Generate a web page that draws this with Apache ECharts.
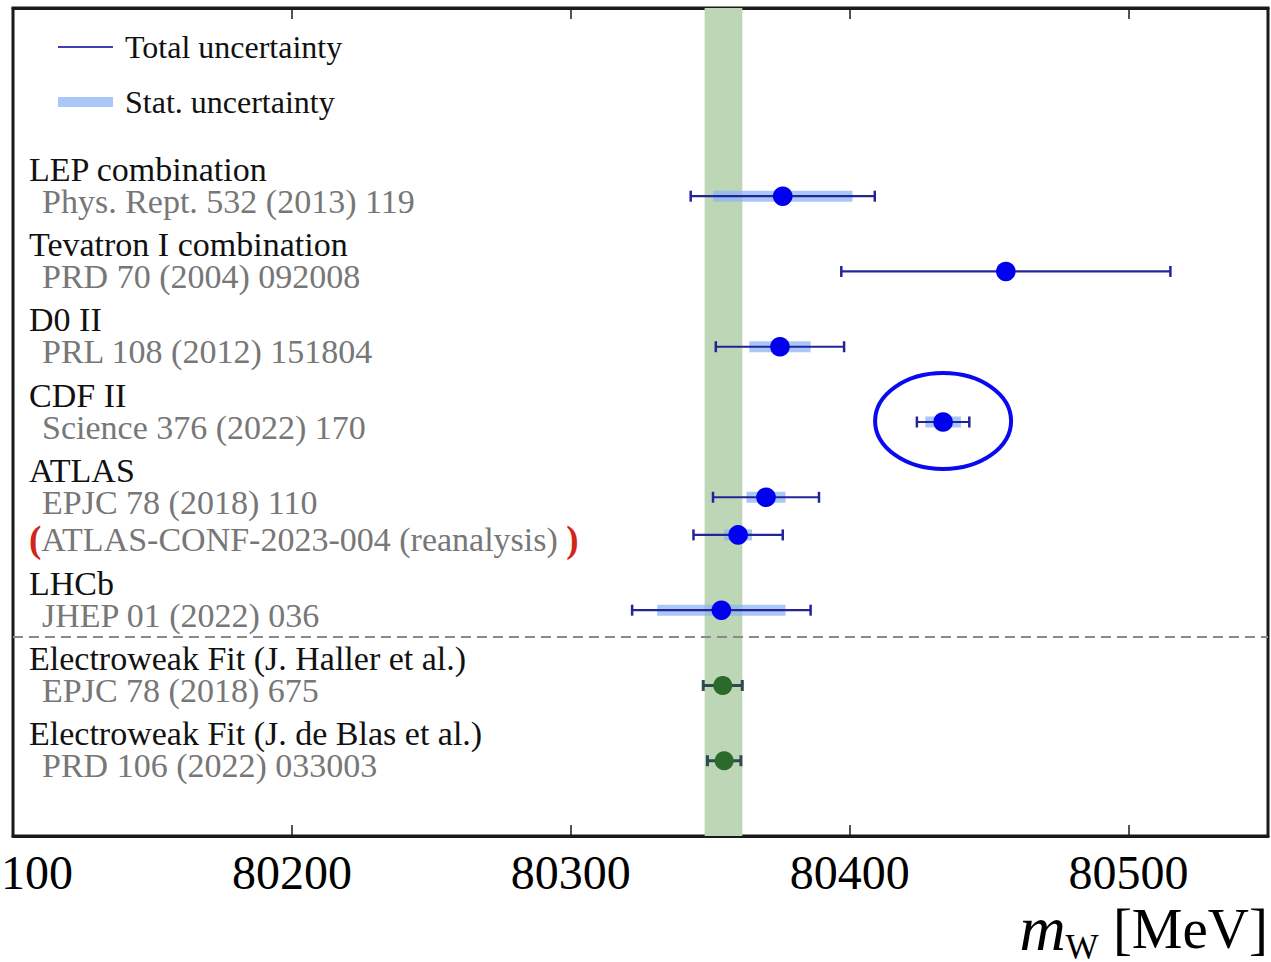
<!DOCTYPE html>
<html><head><meta charset="utf-8">
<script src="https://cdn.jsdelivr.net/npm/echarts@6/dist/echarts.min.js"></script>
<style>html,body{margin:0;padding:0;background:#fff}#c{width:1271px;height:962px}</style>
</head><body><div id="c"></div>
<script>
// ---------------- data ----------------
const titles = ['LEP combination', 'Tevatron I combination', 'D0 II', 'CDF II', 'ATLAS', '', 'LHCb',
  'Electroweak Fit (J. Haller et al.)', 'Electroweak Fit (J. de Blas et al.)'];
const refs = ['Phys. Rept. 532 (2013) 119', 'PRD 70 (2004) 092008', 'PRL 108 (2012) 151804',
  'Science 376 (2022) 170', 'EPJC 78 (2018) 110', 'ATLAS-CONF-2023-004 (reanalysis)',
  'JHEP 01 (2022) 036', 'EPJC 78 (2018) 675', 'PRD 106 (2022) 033003'];
const rows = [0, 1, 2, 3, 4, 4.5, 5.5, 6.5, 7.5];
const central = [80376, 80456, 80375, 80433.5, 80370, 80360, 80354, 80354.5, 80355];
const totalUnc = [33, 59, 23, 9.4, 19, 16, 32, 7, 6];
const statUnc = [25, 0, 11, 6.4, 7, 5, 23, 0, 0];
const isFit = [0, 0, 0, 0, 0, 0, 0, 1, 1];
const highlighted = [0, 0, 0, 1, 0, 0, 0, 0, 0];
const bracketed = [0, 0, 0, 0, 0, 1, 0, 0, 0];
const smBand = [80348, 80361.5];
const separatorRow = 5.85;
const xMin = 80100, xMax = 80550, xStep = 100;
const legendItems = ['Total uncertainty', 'Stat. uncertainty'];
const axisTitle = ['m', 'W', '[MeV]'];

// ---------------- styling ----------------
const SERIF = "'Liberation Serif', 'DejaVu Serif', serif";
const NAVY = '#24249a';
const STAT = 'rgba(140,182,244,0.75)';
const BLUE = '#0000ee';
const FIT_GREEN = '#2b6a2b';
const FIT_BAR = '#2d4a52';
const LABEL_PX = 34;
const LABEL_LH = 29;

const barData = rows.map((r, i) => [r, central[i], totalUnc[i], statUnc[i], isFit[i], highlighted[i]]);
const labelData = rows.map((r, i) => [xMin, r, i]);

function renderBar(params, api) {
  const row = api.value(0), c = api.value(1), t = api.value(2), s = api.value(3);
  const fit = api.value(4) === 1, hl = api.value(5) === 1;
  const p = api.coord([c, row]);
  const pl = api.coord([c - t, row]);
  const pr = api.coord([c + t, row]);
  const children = [];
  const lineCol = fit ? FIT_BAR : NAVY;
  if (s > 0) {
    const sl = api.coord([c - s, row]), sr = api.coord([c + s, row]);
    children.push({type: 'rect', shape: {x: sl[0], y: p[1] - 5.5, width: sr[0] - sl[0], height: 11},
      style: {fill: STAT}});
  }
  children.push({type: 'line', shape: {x1: pl[0], y1: p[1], x2: pr[0], y2: p[1]},
    style: {stroke: lineCol, lineWidth: fit ? 3 : 2.2}});
  [pl[0], pr[0]].forEach(x => children.push({type: 'line',
    shape: {x1: x, y1: p[1] - 5.5, x2: x, y2: p[1] + 5.5},
    style: {stroke: lineCol, lineWidth: fit ? 3 : 2.5}}));
  children.push({type: 'circle', shape: {cx: p[0], cy: p[1], r: fit ? 9.5 : 9.8},
    style: {fill: fit ? FIT_GREEN : BLUE}});
  if (hl) {
    children.push({type: 'ellipse', shape: {cx: p[0], cy: p[1] - 1, rx: 68, ry: 48},
      style: {fill: 'none', stroke: '#0a0af0', lineWidth: 4}});
  }
  return {type: 'group', children};
}

function renderLabel(params, api) {
  const i = api.value(2);
  const p = api.coord([api.value(0), api.value(1)]);
  const x0 = p[0] + 16;
  const children = [];
  if (bracketed[i]) {
    children.push({type: 'text', style: {x: x0, y: p[1] + 5,
      text: '{p|(}{g|' + refs[i] + ' }{p|)}', verticalAlign: 'middle', align: 'left',
      rich: {
        p: {fill: '#d3241c', fontSize: 37, fontWeight: 'bold', fontFamily: SERIF, lineHeight: LABEL_LH},
        g: {fill: '#777777', fontSize: LABEL_PX, fontFamily: SERIF, lineHeight: LABEL_LH}
      }}});
  } else {
    children.push({type: 'text', style: {x: x0, y: p[1] - 27, text: titles[i], lineHeight: LABEL_LH,
      font: LABEL_PX + 'px ' + SERIF, fill: '#111111', verticalAlign: 'middle', align: 'left'}});
    children.push({type: 'text', style: {x: x0 + 13, y: p[1] + 5, text: refs[i], lineHeight: LABEL_LH,
      font: LABEL_PX + 'px ' + SERIF, fill: '#777777', verticalAlign: 'middle', align: 'left'}});
  }
  return {type: 'group', children};
}

const axisCommon = {
  type: 'value', min: xMin, max: xMax, interval: xStep,
  splitLine: {show: false},
  axisLine: {show: true, onZero: false, lineStyle: {color: '#1a1a1a', width: 3}},
  axisTick: {show: true, inside: true, length: 11, lineStyle: {color: '#1a1a1a', width: 1.5}}
};

const chart = echarts.init(document.getElementById('c'), null, {renderer: 'svg'});
chart.setOption({
  animation: false,
  backgroundColor: '#ffffff',
  grid: {left: 13, right: 3, top: 8, bottom: 126, show: true, borderColor: '#1a1a1a', borderWidth: 3,
    containLabel: false, outerBoundsMode: 'none'},
  xAxis: [
    Object.assign({}, axisCommon, {position: 'bottom',
      axisLabel: {show: true, color: '#000', fontFamily: SERIF, fontSize: 48, margin: 12,
        showMaxLabel: false,
        formatter: v => (v % xStep === 0 ? String(v) : '')}}),
    Object.assign({}, axisCommon, {position: 'top', axisLabel: {show: false}})
  ],
  yAxis: {type: 'value', inverse: true, min: -2.5, max: 8.5, show: false},
  series: [
    {type: 'line', data: [], z: 1, silent: true,
      markArea: {silent: true, itemStyle: {color: '#bcd6b6', opacity: 1},
        data: [[{xAxis: smBand[0]}, {xAxis: smBand[1]}]]},
      markLine: {silent: true, symbol: 'none', label: {show: false},
        lineStyle: {type: [10, 6], color: '#8a8a8a', width: 2},
        data: [{yAxis: separatorRow}]}},
    {type: 'custom', z: 5, silent: true, clip: false, encode: {x: 1, y: 0},
      renderItem: renderBar, data: barData},
    {type: 'custom', z: 6, silent: true, clip: false, encode: {x: 0, y: 1},
      renderItem: renderLabel, data: labelData}
  ],
  graphic: [
    {type: 'line', shape: {x1: 58, y1: 47, x2: 113, y2: 47}, style: {stroke: '#4040b0', lineWidth: 2}},
    {type: 'text', style: {x: 125, y: 47, text: legendItems[0], font: '32px ' + SERIF, fill: '#111',
      verticalAlign: 'middle'}},
    {type: 'rect', shape: {x: 58, y: 97, width: 55, height: 10}, style: {fill: STAT}},
    {type: 'text', style: {x: 125, y: 102, text: legendItems[1], font: '32px ' + SERIF, fill: '#111',
      verticalAlign: 'middle'}},
    {type: 'text', style: {x: 1268, y: 928, text: '{m|' + axisTitle[0] + '}{w|' + axisTitle[1] + '}{u| ' + axisTitle[2] + '}',
      align: 'right', verticalAlign: 'middle',
      rich: {
        m: {fontFamily: SERIF, fontStyle: 'italic', fontSize: 64, fill: '#000'},
        w: {fontFamily: SERIF, fontSize: 35, fill: '#000', padding: [38, 0, 0, 0]},
        u: {fontFamily: SERIF, fontSize: 57, fill: '#000'}
      }}}
  ]
});
</script></body></html>
